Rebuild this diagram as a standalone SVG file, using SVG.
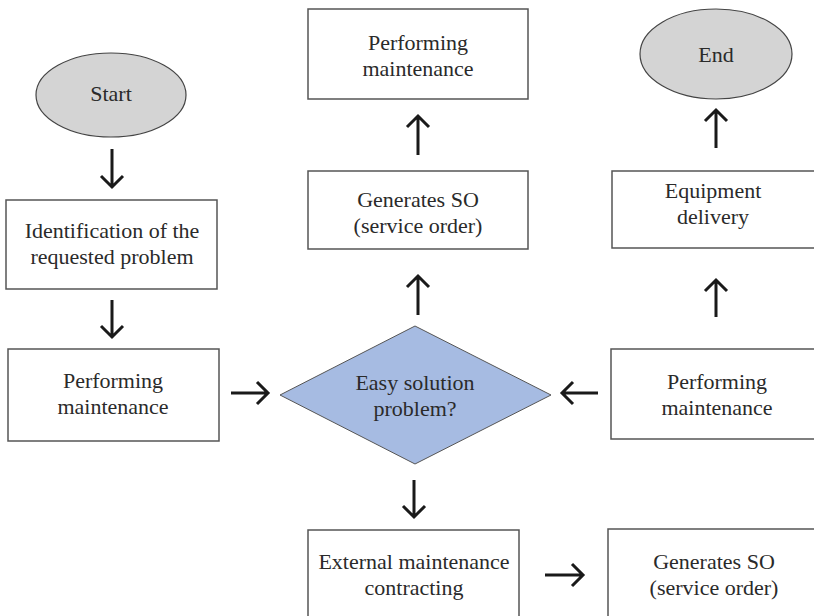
<svg xmlns="http://www.w3.org/2000/svg" width="814" height="616" viewBox="0 0 814 616">
<style>
  .box { fill: #ffffff; stroke: #555555; stroke-width: 1.5; }
  .oval { fill: #d4d4d4; stroke: #444444; stroke-width: 1.2; }
  .dia { fill: #a6bbe2; stroke: #555555; stroke-width: 1; }
  .t { font-family: 'Liberation Serif', 'Times New Roman', serif; font-size: 22px; fill: #2a2a2a; text-anchor: middle; }
  .arr { fill: none; stroke: #1a1a1a; stroke-width: 3; stroke-linecap: butt; stroke-linejoin: miter; }
</style>
<rect width="814" height="616" fill="#ffffff"/>

<g id="start">
  <ellipse class="oval" cx="111" cy="95" rx="75" ry="42"/>
  <text class="t" x="111" y="101">Start</text>
</g>
<g id="identification">
  <rect class="box" x="6" y="200" width="211" height="89"/>
  <text class="t" x="112" y="238">Identification of the</text>
  <text class="t" x="112" y="264">requested problem</text>
</g>
<g id="perform-left">
  <rect class="box" x="8" y="349" width="211" height="92"/>
  <text class="t" x="113" y="388">Performing</text>
  <text class="t" x="113" y="414">maintenance</text>
</g>
<g id="decision">
  <polygon class="dia" points="415,326 551,395 415,464 280,395"/>
  <text class="t" x="415" y="390">Easy solution</text>
  <text class="t" x="415" y="416">problem?</text>
</g>
<g id="generates-top">
  <rect class="box" x="308" y="171" width="220" height="78"/>
  <text class="t" x="418" y="207">Generates SO</text>
  <text class="t" x="418" y="233">(service order)</text>
</g>
<g id="perform-top">
  <rect class="box" x="308" y="9" width="220" height="90"/>
  <text class="t" x="418" y="50">Performing</text>
  <text class="t" x="418" y="76">maintenance</text>
</g>
<g id="perform-right">
  <rect class="box" x="611" y="349" width="210" height="90"/>
  <text class="t" x="717" y="389">Performing</text>
  <text class="t" x="717" y="415">maintenance</text>
</g>
<g id="equipment">
  <rect class="box" x="612" y="171" width="210" height="77"/>
  <text class="t" x="713" y="198">Equipment</text>
  <text class="t" x="713" y="224">delivery</text>
</g>
<g id="end">
  <ellipse class="oval" cx="716" cy="54" rx="76" ry="45"/>
  <text class="t" x="716" y="62">End</text>
</g>
<g id="external">
  <rect class="box" x="308" y="530" width="211" height="95"/>
  <text class="t" x="414" y="569">External maintenance</text>
  <text class="t" x="414" y="595">contracting</text>
</g>
<g id="generates-bottom">
  <rect class="box" x="608" y="529" width="215" height="96"/>
  <text class="t" x="714" y="569">Generates SO</text>
  <text class="t" x="714" y="595">(service order)</text>
</g>

<g id="connectors">
  <path class="arr" d="M112,149 V187 M101,176 L112,187 L123,176"/>
  <path class="arr" d="M112,300 V337 M101,326 L112,337 L123,326"/>
  <path class="arr" d="M231,393 H268 M257,382 L268,393 L257,404"/>
  <path class="arr" d="M418,315 V276 M407,287 L418,276 L429,287"/>
  <path class="arr" d="M418,155 V116 M407,127 L418,116 L429,127"/>
  <path class="arr" d="M598,393 H562 M573,382 L562,393 L573,404"/>
  <path class="arr" d="M716,317 V280 M705,291 L716,280 L727,291"/>
  <path class="arr" d="M716,148 V110 M705,121 L716,110 L727,121"/>
  <path class="arr" d="M414,480 V517 M403,506 L414,517 L425,506"/>
  <path class="arr" d="M545,575 H583 M572,564 L583,575 L572,586"/>
</g>
</svg>
